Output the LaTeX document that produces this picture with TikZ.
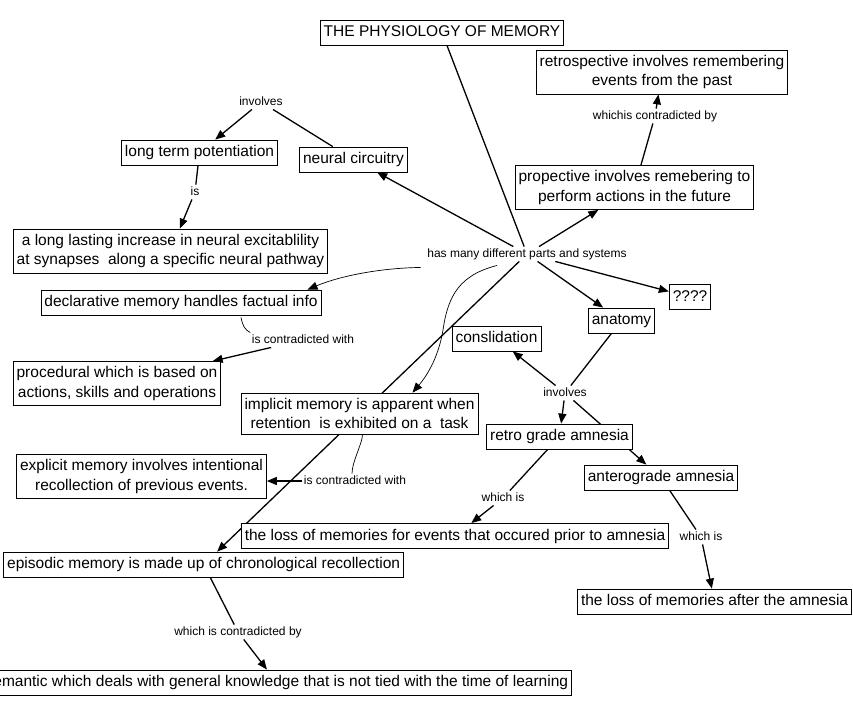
\documentclass[tikz,border=0pt]{standalone}
\usepackage{fontspec}
\setmainfont{Liberation Sans}
\usetikzlibrary{arrows.meta,calc}
\pgfdeclarelayer{bg}
\pgfsetlayers{bg,main}
\tikzset{
 concept/.style={draw, fill=white, line width=0.8pt, font=\fontsize{15.5}{19.5}\selectfont, inner xsep=3.5pt, inner ysep=5pt, text height=11.5pt, text depth=3.5pt},
 concepttwo/.style={draw, fill=white, line width=0.8pt, font=\fontsize{15.5}{19.5}\selectfont, inner xsep=3.5pt, inner ysep=5pt, align=center},
 lab/.style={fill=white, font=\fontsize{12}{14}\selectfont, inner sep=1.5pt, text height=9pt, text depth=2.5pt},
 link/.style={line width=1.3pt},
 arr/.style={line width=1.3pt, -{Triangle[length=10pt,width=8pt]}},
 thinlink/.style={line width=0.7pt},
 thinarr/.style={line width=0.7pt, -{Triangle[length=10pt,width=8pt]}},
}
\begin{document}
\begin{tikzpicture}[x=1pt,y=-1pt]
\useasboundingbox (0,0) rectangle (853,715);
% concepts
\node[concept] (title) at (442,32.5) {THE PHYSIOLOGY OF MEMORY};
\node[concepttwo] (retro) at (662,72) {retrospective involves remembering\\events from the past};
\node[concepttwo] (prosp) at (634.5,187.5) {propective involves remebering to\\perform actions in the future};
\node[concept] (ltp) at (199.5,152.5) {long term potentiation};
\node[concept] (neural) at (353.5,159.5) {neural circuitry};
\node[concepttwo] (along) at (170.5,251) {a long lasting increase in neural excitablility\\at synapses\ \ along a specific neural pathway};
\node[concept] (decl) at (181,302.5) {declarative memory handles factual info};
\node[concepttwo] (proc) at (117,383.5) {procedural which is based on\\actions, skills and operations};
\node[concepttwo] (impl) at (359.5,413.5) {implicit memory is apparent when\\retention\ \ is exhibited on a\ \ task};
\node[concepttwo] (expl) at (141.5,476.5) {explicit memory involves intentional\\recollection of previous events.};
\node[concept] (consl) at (496.5,338.5) {conslidation};
\node[concept] (anat) at (621.5,320.5) {anatomy};
\node[concept] (qqq) at (690,297) {????};
\node[concept] (retrog) at (559.5,436.5) {retro grade amnesia};
\node[concept] (antero) at (661,477.5) {anterograde amnesia};
\node[concept] (lossprior) at (455,536) {the loss of memories for events that occured prior to amnesia};
\node[concept, anchor=east] (episodic) at (404,564.5) {episodic memory is made up of chronological recollection};
\node[concept, anchor=east] (lossafter) at (852,601.5) {the loss of memories after the amnesia};
\node[concept, anchor=east] (semantic) at (572,682.5) {semantic which deals with general knowledge that is not tied with the time of learning};
% linking phrases
\node[lab] (inv1) at (261,102) {involves};
\node[lab] (is1) at (195,192) {is};
\node[lab] (has) at (527,254) {has many different parts and systems};
\node[lab] (wcb) at (655,116) {whichis contradicted by};
\node[lab] (icw1) at (303,340) {is contradicted with};
\node[lab] (icw2) at (355,481) {is contradicted with};
\node[lab] (inv2) at (565,393) {involves};
\node[lab] (wi1) at (503,498) {which is};
\node[lab] (wi2) at (701,537) {which is};
\node[lab] (wcb2) at (238,632) {which is contradicted by};
\begin{pgfonlayer}{bg}
\fill[white] (0,0) rectangle (853,715);
\draw[link] (title) -- (has);
\draw[arr] (has) -- (neural);
\draw[arr] (has) -- (prosp);
\draw[arr] (has) -- (qqq);
\draw[arr] (has) -- (anat);
\draw[arr] (has) -- (episodic);
\draw[link] (neural) -- (inv1);
\draw[arr] (inv1) -- (ltp);
\draw[link] (ltp) -- (is1);
\draw[arr] (is1) -- (along);
\draw[thinarr] ([xshift=-5pt,yshift=-6pt]has.south west) .. controls (380,268) and (340,276) .. ([xshift=-14pt]decl.north east);
\draw[thinlink] ([xshift=60pt,yshift=-2pt]decl.south) .. controls +(2,10) and +(-5,-3) .. (icw1.north west);
\draw[arr] (icw1) -- (proc);
\draw[thinarr] ([xshift=-30pt,yshift=-4pt]has.south) .. controls (460,275) and (448,295) .. (443,330) .. controls (438,360) and (425,378) .. ([xshift=53pt]impl.north);
\draw[thinlink] ([xshift=3pt]impl.south) .. controls +(0,9) and +(0,-12) .. ([xshift=-3pt]icw2.north);
\draw[arr] (icw2.west) -- (icw2.west -| expl.east);
\draw[link] (prosp) -- (wcb);
\draw[arr] (wcb) -- (retro);
\draw[link] (anat) -- (inv2);
\draw[arr] (inv2) -- (consl);
\draw[arr] (inv2) -- (retrog);
\draw[arr] (inv2) -- (antero);
\draw[link] (retrog) -- (wi1);
\draw[arr] (wi1) -- (lossprior);
\draw[link] (antero) -- (wi2);
\draw[arr] (wi2) -- (lossafter);
\draw[link] (episodic) -- (wcb2);
\draw[arr] (wcb2) -- (semantic);
\end{pgfonlayer}
\end{tikzpicture}
\end{document}
